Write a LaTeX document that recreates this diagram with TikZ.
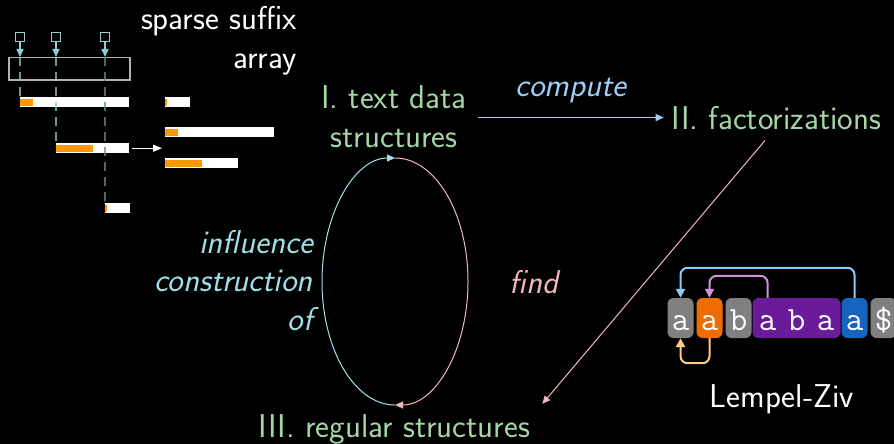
\documentclass[tikz,border=0pt]{standalone}
\usepackage{fontspec}
\usetikzlibrary{arrows.meta,calc}

\definecolor{txtgreen}{RGB}{165,214,167}
\definecolor{lblue}{RGB}{160,205,245}
\definecolor{cyanl}{RGB}{160,225,232}
\definecolor{pinkl}{RGB}{244,182,190}
\definecolor{barorange}{RGB}{255,152,0}
\definecolor{sqteal}{RGB}{150,205,200}
\definecolor{darkteal}{RGB}{100,140,138}
\definecolor{lzgray}{RGB}{128,128,128}
\definecolor{lzorange}{RGB}{239,108,0}
\definecolor{lzpurple}{RGB}{106,27,154}
\definecolor{lzblue}{RGB}{21,101,192}
\definecolor{arrblue}{RGB}{144,202,249}
\definecolor{arrpurple}{RGB}{206,147,216}
\definecolor{arrorange}{RGB}{255,204,128}

\begin{document}
\begin{tikzpicture}[x=1pt, y=-1pt,
  txt/.style={font=\fontsize{33}{38.5}\selectfont\sffamily, inner sep=0pt},
  itxt/.style={font=\fontsize{33}{38.5}\selectfont\sffamily\itshape, inner sep=0pt},
  tip/.style={-{Triangle[length=8pt,width=7pt]}},
  lztip/.style={-{Triangle[length=9pt,width=9pt]}},
  bar/.style={fill=white, inner sep=0pt, minimum height=10pt, anchor=north west},
  dashline/.style={line width=1.5pt, dash pattern=on 9pt off 6pt, opacity=.75},
  lzbox/.style={rounded corners=6pt, inner sep=0pt, minimum height=40pt},
  lzchar/.style={text=white, font=\fontsize{34}{36}\selectfont\ttfamily, inner sep=0pt, anchor=base}]

\fill[black] (0,0) rectangle (894,444);
\useasboundingbox (0,0) rectangle (894,444);

% sparse suffix array
\node[txt, text=white, align=right, anchor=base east] (ssa) at (297,68) {sparse suffix\\array};
\node[draw=gray!60!white, line width=1.5pt, minimum width=121pt, minimum height=22pt,
  inner sep=0pt, anchor=north west] (sa) at (8,57) {};
\foreach \x [count=\i] in {20,56,105} {
  \node[draw=sqteal, line width=1.5pt, minimum size=9pt, inner sep=0pt] (sq\i) at (\x,37) {};
  \draw[sqteal, line width=1.5pt, tip] (sq\i.south) -- (sq\i.south |- sa.north);
}
\foreach \n/\x/\y/\w/\o in {bar1/20/97/109/13, bar2/56/143/73/37, bar3/105/203/25/1.5,
    srt1/165/97/25/1.5, srt2/165/127/109/13, srt3/165/158/73/37} {
  \node[bar, minimum width=\w pt] (\n) at (\x,\y) {};
  \fill[barorange] ([yshift=-1.5pt]\n.north west) rectangle ++(\o,7);
}
\draw[dashline, sqteal] (sq1.south |- sa.north) -- (bar1.north west);
\draw[dashline, sqteal] (sq2.south |- sa.north) -- (bar2.north west);
\draw[dashline, darkteal] (sq3.south |- sa.north) -- (bar3.north west);
\draw[white, line width=1pt, -{Triangle[length=9pt,width=7pt]}]
  ([xshift=3pt]bar2.east) -- ([xshift=-3pt]bar2.east -| srt1.west);

% the three topics
\node[txt, text=txtgreen, align=center, anchor=base] (tds) at (394,147) {I. text data\\structures};
\node[txt, text=txtgreen, anchor=base] (fac) at (776.5,129) {II. factorizations};
\node[txt, text=txtgreen, anchor=base] (reg) at (394.5,437) {III. regular structures};

\draw[lblue, line width=1pt, tip] ([xshift=11pt]fac.west -| tds.east) -- ([xshift=-8pt]fac.west)
  node[midway, anchor=base, yshift=21pt, itxt, text=lblue] (cmp) {compute};
\draw[pinkl, line width=1pt, tip] ($(fac.south)+(-11.5,11)$) -- ($(reg.north east)+(12,-10)$);

% cycle between I and III
\coordinate (ctr) at (395,281.5);
\coordinate (etop) at (395,158);
\coordinate (ebot) at (395,405);
\draw[cyanl, line width=1pt, tip] (ebot) arc[start angle=90, end angle=270, x radius=73, y radius=123.5];
\draw[pinkl, line width=1pt, tip] (etop) arc[start angle=270, end angle=450, x radius=73, y radius=123.5];
\node[itxt, text=cyanl, align=right, anchor=base east] (inf) at (313,330) {influence\\construction\\of};
\node[itxt, text=pinkl, anchor=base] (fnd) at (534,293) {find};

% Lempel-Ziv factorization
\foreach \i/\c in {0/lzgray, 1/lzorange, 2/lzgray, 6/lzblue, 7/lzgray}
  \node[lzbox, fill=\c, minimum width=26pt] (box\i) at (680.5+29*\i,318) {};
\node[lzbox, fill=lzpurple, minimum width=88pt] (box3) at (796.5,318) {};
\foreach \ch [count=\i from 0] in {a,a,b,a,b,a,a,\$}
  \node[lzchar] (ch\i) at (680.5+29*\i,330) {\ch};
\draw[arrblue, line width=2pt, rounded corners=7pt, lztip] (box6.north) -- ++(0,-30) -| (box0.north);
\draw[arrpurple, line width=2pt, rounded corners=7pt, lztip] (ch3.north |- box3.north) -- ++(0,-22) -| (box1.north);
\draw[arrorange, line width=2pt, rounded corners=7pt, lztip] (box1.south) -- ++(0,25) -| (box0.south);
\node[txt, text=white, anchor=base] (lz) at (782,407) {Lempel-Ziv};
\end{tikzpicture}
\end{document}
